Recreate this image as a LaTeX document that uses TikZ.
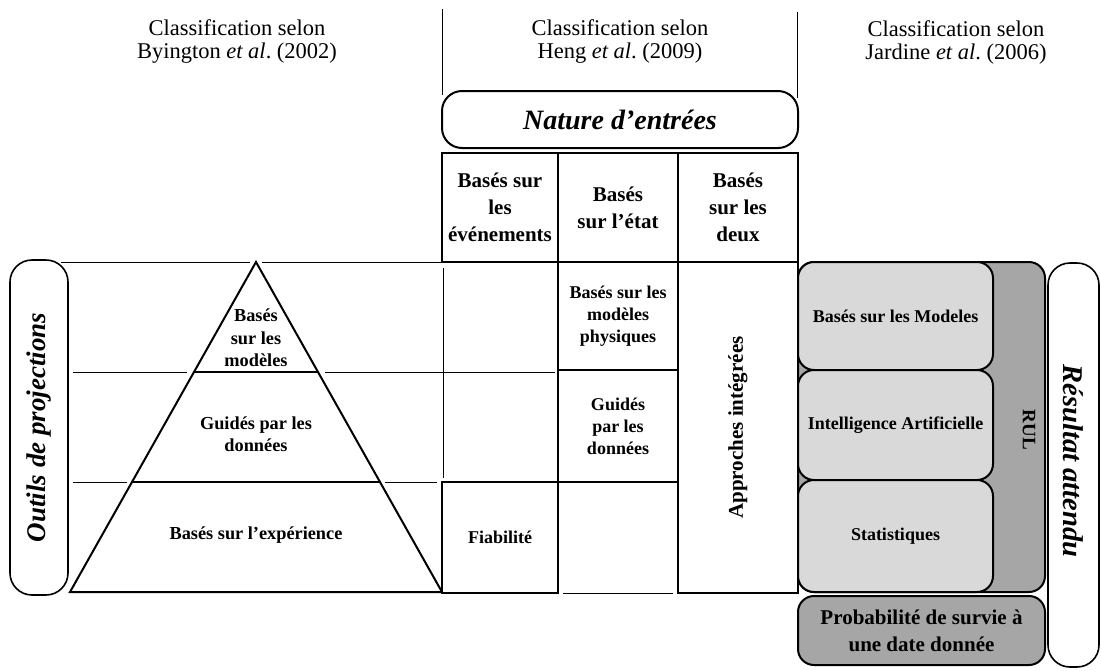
\documentclass[tikz,border=0pt]{standalone}
\usepackage{fontspec}
\setmainfont{Liberation Serif}
\frenchspacing
\definecolor{rulgray}{RGB}{166,166,166}
\definecolor{boxgray}{RGB}{217,217,217}
\begin{document}
\begin{tikzpicture}[x=1pt,y=-1pt,
  thickline/.style={line width=2pt},
  thinline/.style={line width=0.6pt},
  cell/.style={draw,line width=2pt,inner sep=0pt,align=center,font=\bfseries\fontsize{18}{22}\selectfont},
  headcell/.style={cell,font=\bfseries\fontsize{21}{27}\selectfont},
  plain/.style={inner sep=0pt,align=center},
  title/.style={plain,font=\fontsize{22.5}{23}\selectfont},
  lbl/.style={plain,font=\bfseries\fontsize{18.3}{22.5}\selectfont},
  graybox/.style={draw,line width=2pt,rounded corners=16pt,inner sep=0pt,align=center,font=\bfseries\fontsize{18}{22}\selectfont},
  bigital/.style={font=\bfseries\itshape\fontsize{27}{30}\selectfont}
]
\useasboundingbox (0,0) rectangle (1101,670);
% titles
\node[title] (t1) at (237,42) {Classification selon\\Byington \textit{et al}. (2002)};
\node[title] (t2) at (620,42) {Classification selon\\Heng \textit{et al}. (2009)};
\node[title] (t3) at (956,42) {Classification selon\\Jardine \textit{et al}. (2006)};
\coordinate (v1a) at (442,9); \coordinate (v1b) at (442,95);
\coordinate (v2a) at (797,12); \coordinate (v2b) at (797,98);
\draw[thinline] (v1a) -- (v1b);
\draw[thinline] (v2a) -- (v2b);
% Nature d'entrees
\node[draw,line width=2pt,rounded corners=20pt,minimum width=356,minimum height=57,inner sep=0pt,font=\bfseries\itshape\fontsize{28}{30}\selectfont] (nat) at (620,119.5) {Nature d’entrées};
% header cells
\node[headcell,minimum width=116,minimum height=109] (h1) at (500,207.5) {Basés sur\\les\\événements};
\node[headcell,minimum width=120,minimum height=109] (h2) at (618,207.5) {Basés\\sur l’état};
\node[headcell,minimum width=120,minimum height=109] (h3) at (738,207.5) {Basés\\sur les\\deux};
% body cells
\node[cell,minimum width=120,minimum height=108] (phys) at (618,316) {Basés sur les\\modèles\\physiques};
\node[cell,minimum width=120,minimum height=112] (gd) at (618,426) {Guidés\\par les\\données};
\node[cell,minimum width=116,minimum height=111] (fia) at (500,537.5) {Fiabilité};
\node[cell,minimum width=120,minimum height=331] (app) at (738,427.5) {};
\node[lbl,rotate=90,font=\bfseries\fontsize{21}{24}\selectfont] (applbl) at (app.center) {Approches intégrées};
\coordinate (eb1) at (563,593); \coordinate (eb2) at (673,593);
\draw[thinline] (eb1) -- (eb2);
\coordinate (vt1) at (443,268); \coordinate (vt2) at (443,478);
\draw[thinline] (vt1) -- (vt2);
% pyramid
\coordinate (apex) at (256,262);
\coordinate (bl) at (70,592);
\coordinate (br) at (442,592);
\draw[thickline,line join=miter] (apex) -- (br) -- (bl) -- cycle;
\draw[thickline] (193,372) -- (319,372);
\draw[thickline] (131,482) -- (381,482);
\draw[thinline] (61,262) -- (250,262);
\draw[thinline] (262,262) -- (442,262);
\draw[thinline] (73,372) -- (187,372);
\draw[thinline] (325,372) -- (555,372);
\draw[thinline] (73,482) -- (127,482);
\draw[thinline] (385,482) -- (437,482);
\node[lbl] (p1) at (256,338) {Basés\\sur les\\modèles};
\node[lbl] (p2) at (256,434) {Guidés par les\\données};
\node[lbl] (p3) at (256,535) {Basés sur l’expérience};
% Outils box
\node[draw,line width=1.6pt,rounded corners=22pt,minimum width=58,minimum height=335,inner sep=0pt] (out) at (39,427.5) {};
\node[rotate=90,bigital] (outlbl) at (out.center) {Outils de projections};
% RUL
\node[draw,line width=2pt,fill=rulgray,rounded corners=16pt,minimum width=247,minimum height=330,inner sep=0pt] (rul) at (921.5,427) {};
\node[rotate=-90,font=\bfseries\fontsize{19}{21}\selectfont] (rullbl) at (1029,430) {RUL};
\node[graybox,fill=boxgray,minimum width=195,minimum height=108] (m1) at (895.5,316) {Basés sur les Modeles};
\node[graybox,fill=boxgray,minimum width=195,minimum height=110] (m2) at (895.5,425) {Intelligence Artificielle};
\node[graybox,fill=boxgray,minimum width=195,minimum height=112] (m3) at (895.5,536) {Statistiques};
\node[graybox,fill=rulgray,minimum width=247,minimum height=69,font=\bfseries\fontsize{21}{27}\selectfont] (prob) at (921.5,630.5) {Probabilité de survie à\\une date donnée};
% Resultat attendu
\node[draw,line width=1.6pt,rounded corners=22pt,minimum width=51,minimum height=404,inner sep=0pt] (res) at (1073.5,465) {};
\node[rotate=-90,font=\bfseries\itshape\fontsize{28.6}{31}\selectfont] (reslbl) at (1073.5,461) {Résultat attendu};
\end{tikzpicture}
\end{document}
